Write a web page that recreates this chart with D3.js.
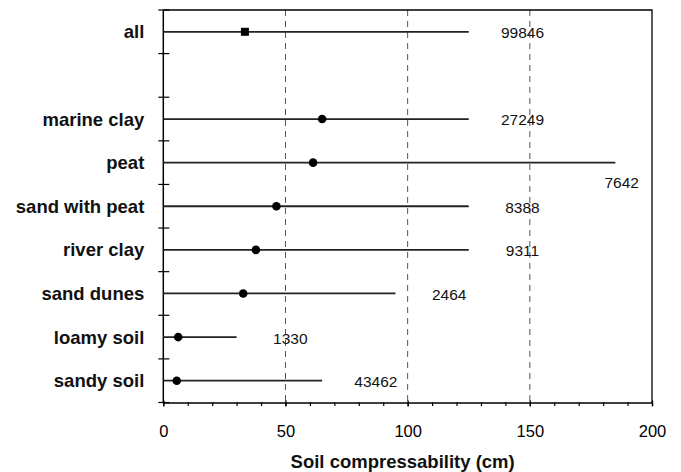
<!DOCTYPE html>
<html>
<head>
<meta charset="utf-8">
<script src="https://cdn.jsdelivr.net/npm/d3@7"></script>
<style>
  body { margin: 0; background: #fff; }
  svg { display: block; font-family: "Liberation Sans", Arial, sans-serif; }
</style>
</head>
<body>
<div id="chart"></div>
<script>
// data
var rows = ["all", "", "marine clay", "peat", "sand with peat", "river clay", "sand dunes", "loamy soil", "sandy soil"];
var soils = ["all", "marine clay", "peat", "sand with peat", "river clay", "sand dunes", "loamy soil", "sandy soil"];
var lowValues = [0, 0, 0, 0, 0, 0, 0, 0];
var midValues = [33.4, 65, 61.3, 46.3, 37.9, 32.7, 6.1, 5.5];
var highValues = [125, 125, 185, 125, 125, 95, 30, 65];
var counts = [99846, 27249, 7642, 8388, 9311, 2464, 1330, 43462];
var xTicks = [0, 50, 100, 150, 200];
var gridValues = [50, 100, 150];

var margin = {top: 10, right: 29, bottom: 69.5, left: 163.3},
    width = 681 - margin.left - margin.right,
    height = 472 - margin.top - margin.bottom;

var svg = d3.select("#chart")
  .append("svg")
    .attr("width", 681)
    .attr("height", 472)
  .append("g")
    .attr("transform", "translate(" + margin.left + "," + margin.top + ")");

var x = d3.scaleLinear().domain([0, 200]).range([0, width]);
var y = d3.scaleBand().domain(rows).range([0, height]).padding(0);

var data = soils.map(function(s, i) {
  return {name: s, low: lowValues[i], mid: midValues[i], high: highValues[i], n: counts[i]};
});

// dashed grid lines
svg.selectAll(".grid")
  .data(gridValues)
  .enter().append("line")
    .attr("x1", function(d) { return x(d); })
    .attr("x2", function(d) { return x(d); })
    .attr("y1", 0)
    .attr("y2", height)
    .attr("stroke", "#555")
    .attr("stroke-width", 1)
    .attr("stroke-dasharray", "6,5");

// frame (top + right)
svg.append("path")
  .attr("d", "M0,0H" + width + "V" + height)
  .attr("fill", "none")
  .attr("stroke", "#000")
  .attr("stroke-width", 1.3);

// x axis: labels + major ticks
var xAxis = svg.append("g")
  .attr("transform", "translate(0," + height + ")")
  .call(d3.axisBottom(x).tickValues(xTicks).tickSize(4).tickPadding(18.5).tickSizeOuter(0));
xAxis.select(".domain").attr("stroke", "#000").attr("stroke-width", 1.5);
xAxis.selectAll(".tick line").attr("y1", -2).attr("stroke-width", 1.3);
xAxis.selectAll("text")
  .style("font-family", "'Liberation Sans', Arial, sans-serif")
  .style("font-size", "16.5px")
  .attr("fill", "#000");

// minor ticks every 10
svg.append("g")
  .attr("transform", "translate(0," + height + ")")
  .call(d3.axisBottom(x).ticks(20).tickSize(3.5).tickFormat("").tickSizeOuter(0))
  .call(function(g) { g.select(".domain").remove(); })
  .selectAll(".tick line").attr("stroke-width", 1.2);

// y axis: line, ticks at row boundaries, labels
svg.append("line")
  .attr("x1", 0).attr("x2", 0)
  .attr("y1", 0).attr("y2", height)
  .attr("stroke", "#000")
  .attr("stroke-width", 1.5);

var bounds = d3.range(rows.length + 1).map(function(i) { return i * y.step(); });
svg.selectAll(".ytick")
  .data(bounds)
  .enter().append("line")
    .attr("x1", -5).attr("x2", 6)
    .attr("y1", function(d) { return d; })
    .attr("y2", function(d) { return d; })
    .attr("stroke", "#000")
    .attr("stroke-width", 1.2);

svg.selectAll(".ylabel")
  .data(data)
  .enter().append("text")
    .attr("x", -19)
    .attr("y", function(d) { return y(d.name) + y.bandwidth() / 2 + 6.5; })
    .attr("text-anchor", "end")
    .style("font-size", "18.5px")
    .style("font-weight", "bold")
    .attr("fill", "#111")
    .text(function(d) { return d.name; });

// range lines
svg.selectAll(".range")
  .data(data)
  .enter().append("line")
    .attr("x1", function(d) { return x(d.low); })
    .attr("x2", function(d) { return x(d.high); })
    .attr("y1", function(d) { return y(d.name) + y.bandwidth() / 2; })
    .attr("y2", function(d) { return y(d.name) + y.bandwidth() / 2; })
    .attr("stroke", "#222")
    .attr("stroke-width", 1.8);

// markers: square for "all", dots for the soils
svg.selectAll(".sq")
  .data(data.filter(function(d) { return d.name === "all"; }))
  .enter().append("rect")
    .attr("x", function(d) { return x(d.mid) - 4; })
    .attr("y", function(d) { return y(d.name) + y.bandwidth() / 2 - 4; })
    .attr("width", 8)
    .attr("height", 8)
    .attr("fill", "#000");

svg.selectAll(".dot")
  .data(data.filter(function(d) { return d.name !== "all"; }))
  .enter().append("circle")
    .attr("cx", function(d) { return x(d.mid); })
    .attr("cy", function(d) { return y(d.name) + y.bandwidth() / 2; })
    .attr("r", 4.3)
    .attr("fill", "#000");

// count labels: right of the line end, or below it when there is no room
svg.selectAll(".count")
  .data(data)
  .enter().append("text")
    .attr("x", function(d) { return d.high + 22 > 195 ? x(d.high + 2.6) : x(d.high + 22); })
    .attr("y", function(d) { return y(d.name) + y.bandwidth() / 2 + (d.high + 22 > 195 ? 19.5 : 1); })
    .attr("dy", "0.35em")
    .attr("text-anchor", "middle")
    .style("font-size", "15.5px")
    .attr("fill", "#111")
    .text(function(d) { return d.n; });

// x axis title
svg.append("text")
  .attr("x", width / 2 - 5)
  .attr("y", height + 65)
  .attr("text-anchor", "middle")
  .style("font-size", "18.5px")
  .style("font-weight", "bold")
  .attr("fill", "#111")
  .text("Soil compressability (cm)");
</script>
</body>
</html>
